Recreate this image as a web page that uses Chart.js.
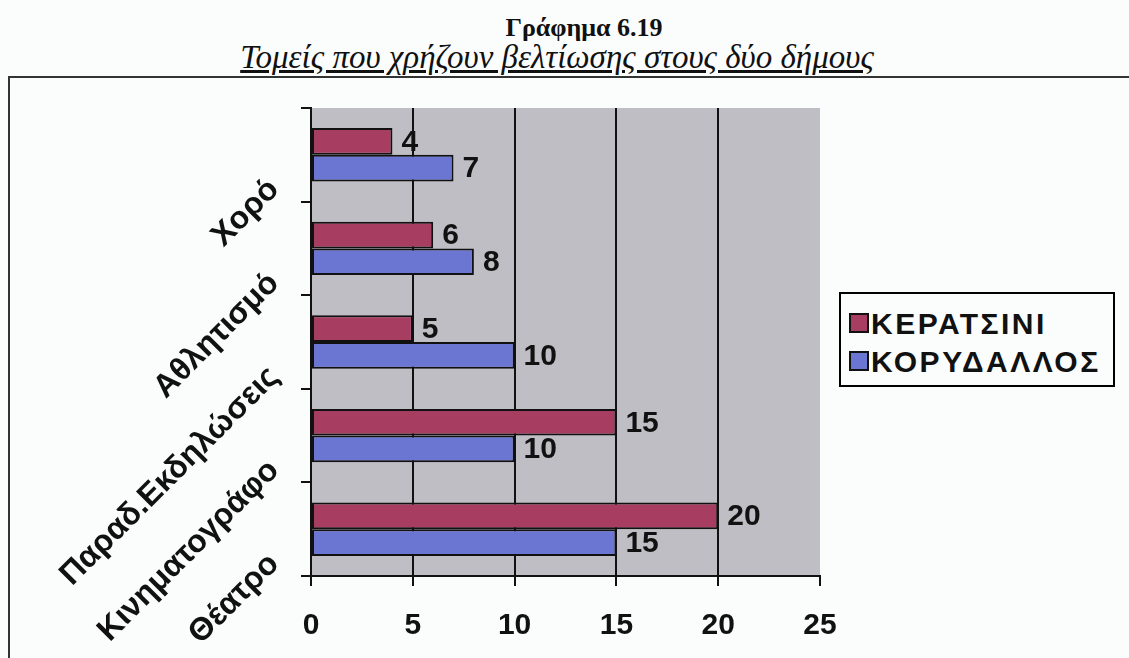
<!DOCTYPE html>
<html>
<head>
<meta charset="utf-8">
<script src="https://cdn.jsdelivr.net/npm/chart.js@4.4.0/dist/chart.umd.min.js"></script>
<style>
  body { margin: 0; background: #fbfdfd; }
  #wrap { position: relative; width: 1129px; height: 658px; overflow: hidden; }
  #titlos { position: absolute; left: 584px; top: 13px; transform: translateX(-50%);
    font: bold 26px "Liberation Serif", serif; white-space: nowrap; color: #111; }
  #ypotitlos { position: absolute; left: 557px; top: 39px; transform: translateX(-50%);
    font: italic 33px "Liberation Serif", serif; text-decoration: underline; white-space: nowrap; color: #111; }
  #plaisio { position: absolute; left: 8px; top: 76px; width: 1200px; height: 700px;
    border-top: 2px solid #333; border-left: 2px solid #333; }
  #myChart { position: absolute; left: 0; top: 0; }
  #ypomnima { position: absolute; left: 839px; top: 292px; width: 272px; height: 91px;
    border: 2px solid #000; background: #fbfdfd; }
  .item { position: absolute; left: 8px; font: bold 30px "Liberation Sans", Arial, sans-serif;
    letter-spacing: 2.5px; color: #111; white-space: nowrap; line-height: 30px; }
  .item span.kouti { display: inline-block; width: 16px; height: 16px; border: 2px solid #111;
    margin-right: 2px; vertical-align: 1px; }
</style>
</head>
<body>
<div id="wrap">
  <div id="titlos">Γράφημα 6.19</div>
  <div id="ypotitlos">Τομείς που χρήζουν βελτίωσης στους δύο δήμους</div>
  <div id="plaisio"></div>
  <canvas id="myChart" width="1129" height="658"></canvas>
  <div id="ypomnima"></div>
</div>
<script>
// katigories (apo pano pros ta kato)
var katigories = ['Χορό', 'Αθλητισμό', 'Παραδ.Εκδηλώσεις', 'Κινηματογράφο', 'Θέατρο'];
var keratsini = [4, 6, 5, 15, 20];
var korydallos = [7, 8, 10, 10, 15];
var onomata = ['ΚΕΡΑΤΣΙΝΙ', 'ΚΟΡΥΔΑΛΛΟΣ'];
var xTicks = [0, 5, 10, 15, 20, 25];

var xromata = ['#a83d62', '#6b75d2'];
var grammatoseira = '"Liberation Sans", Arial, sans-serif';

// ypomnima (legend) se html
var leg = document.getElementById('ypomnima');
onomata.forEach(function (on, i) {
    var d = document.createElement('div');
    d.className = 'item';
    d.style.top = (15 + i * 38) + 'px';
    d.innerHTML = '<span class="kouti" style="background:' + xromata[i] + '"></span>' + on;
    leg.appendChild(d);
});

// gri fonto tou plot area
var fonto = {
    id: 'fonto',
    beforeDraw: function (chart) {
        var a = chart.chartArea;
        var c = chart.ctx;
        c.save();
        c.fillStyle = '#bfbec4';
        c.fillRect(a.left, a.top, a.right - a.left, a.bottom - a.top);
        c.restore();
    }
};

// times dipla stis bares
var etiketes = {
    id: 'etiketes',
    afterDatasetsDraw: function (chart) {
        var c = chart.ctx;
        c.save();
        c.font = 'bold 30px ' + grammatoseira;
        c.fillStyle = '#111';
        c.textAlign = 'left';
        c.textBaseline = 'middle';
        chart.data.datasets.forEach(function (ds, i) {
            chart.getDatasetMeta(i).data.forEach(function (bar, j) {
                c.fillText(ds.data[j], bar.x + 9, bar.y + 1);
            });
        });
        c.restore();
    }
};

var data = {
    labels: katigories,
    datasets: [{
        label: onomata[0],
        data: keratsini,
        backgroundColor: xromata[0],
        borderColor: '#111',
        borderWidth: 2,
        borderSkipped: false,
        categoryPercentage: 0.57,
        barPercentage: 1.0
    }, {
        label: onomata[1],
        data: korydallos,
        backgroundColor: xromata[1],
        borderColor: '#111',
        borderWidth: 2,
        borderSkipped: false,
        categoryPercentage: 0.57,
        barPercentage: 1.0
    }]
};

var config = {
    type: 'bar',
    data: data,
    options: {
        indexAxis: 'y',
        responsive: false,
        animation: false,
        layout: { padding: { left: 0, top: 108, right: 309, bottom: 0 } },
        plugins: { legend: { display: false }, tooltip: { enabled: false } },
        scales: {
            x: {
                min: 0,
                max: 25,
                afterBuildTicks: function (scale) {
                    scale.ticks = xTicks.map(function (v) { return { value: v }; });
                },
                afterFit: function (scale) { scale.height = 82; },
                border: { color: '#111', width: 2 },
                grid: {
                    color: function (ctx) {
                        return (ctx.tick && (ctx.tick.value === 0 || ctx.tick.value === 25)) ? 'rgba(0,0,0,0)' : '#111';
                    },
                    lineWidth: 2,
                    tickColor: '#111',
                    tickLength: 10
                },
                ticks: {
                    color: '#111',
                    padding: 22,
                    font: { family: grammatoseira, size: 30, weight: 'bold' }
                }
            },
            y: {
                afterFit: function (scale) { scale.width = 311; },
                border: { color: '#111', width: 2 },
                grid: {
                    offset: true,
                    drawOnChartArea: false,
                    lineWidth: 2,
                    tickColor: '#111',
                    tickLength: 10
                },
                ticks: {
                    color: '#111',
                    minRotation: 45,
                    maxRotation: 45,
                    labelOffset: 30,
                    padding: 27,
                    font: { family: grammatoseira, size: 32, weight: 'bold' }
                }
            }
        }
    },
    plugins: [fonto, etiketes]
};

var myChart = new Chart(document.getElementById('myChart'), config);
</script>
</body>
</html>
